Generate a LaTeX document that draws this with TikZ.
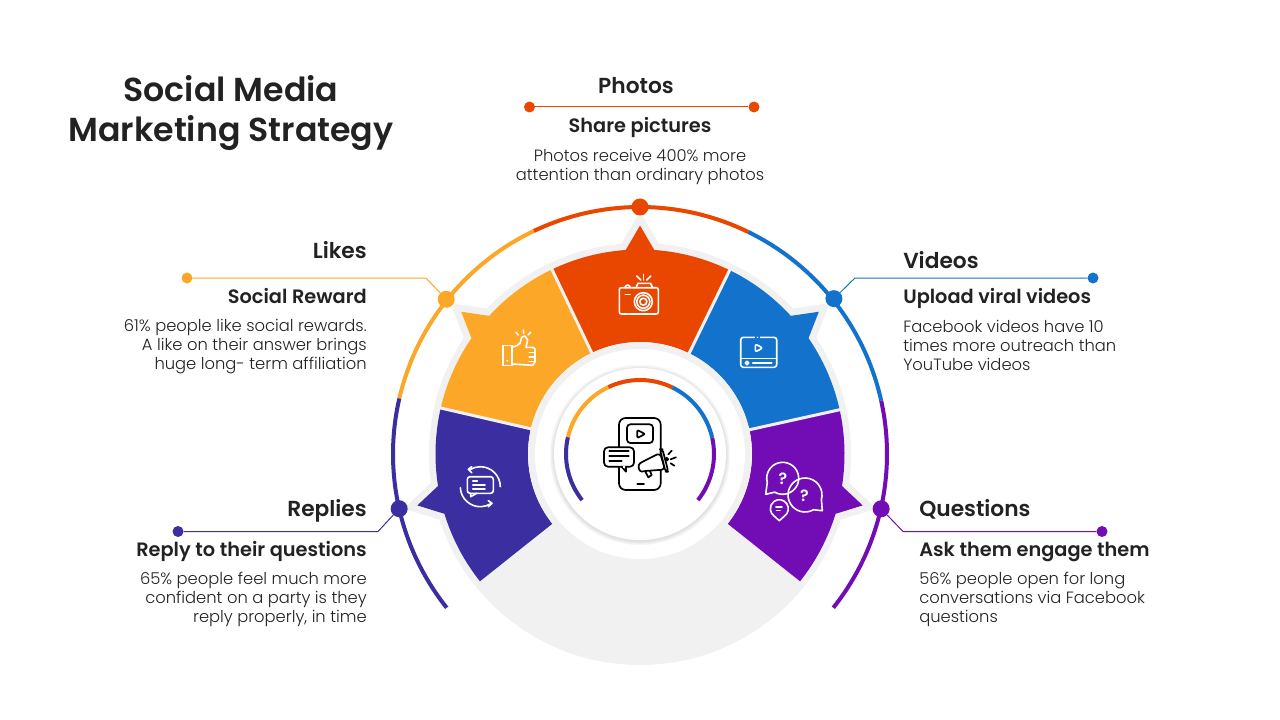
\documentclass[tikz,border=0pt]{standalone}
\usepackage{fontspec}
\setmainfont{Poppins}
\newfontfamily\semib{Poppins SemiBold}
\newfontfamily\lite{Poppins Light}
\definecolor{cRed}{HTML}{E94600}
\definecolor{cOrange}{HTML}{FCA727}
\definecolor{cBlue}{HTML}{1372CC}
\definecolor{cIndigo}{HTML}{3A2EA0}
\definecolor{cPurple}{HTML}{720DB5}
\definecolor{cText}{HTML}{222222}
\definecolor{cGrey}{HTML}{F1F1F1}
\tikzset{
  px/.style={line width=#1*0.75pt},
  titletext/.style={font=\semib\fontsize{24.9}{30}\selectfont,text=cText,align=center,inner sep=0},
  headtext/.style={font=\semib\fontsize{16.3}{20}\selectfont,text=cText,inner sep=0},
  subtext/.style={font=\semib\fontsize{14.5}{19}\selectfont,text=cText,inner sep=0},
  bodytext/.style={font=\lite\fontsize{12.25}{14.25}\selectfont,text=cText,inner sep=0},
  ringdot/.style={circle,fill=#1,draw=none,minimum size=17*0.75pt,inner sep=0},
  enddot/.style={circle,fill=#1,draw=none,minimum size=11*0.75pt,inner sep=0},
  link/.style={draw=#1,px=1},
  wicon/.style={draw=white,px=1.6,line cap=round,line join=round},
  kicon/.style={draw=black,px=1.7,line cap=round,line join=round},
}
% start, end, tip angle, colour
\newcommand{\wedgeshape}[4]{%
  \pgfmathsetmacro{\ba}{#3-4}\pgfmathsetmacro{\bb}{#3+4}%
  \fill[#4] (#1:112) -- (#1:204.5) arc[start angle=#1,end angle=\ba,radius=204.5]
    -- (#3:228.5) -- (\bb:204.5) arc[start angle=\bb,end angle=#2,radius=204.5]
    -- (#2:112) arc[start angle=#2,end angle=#1,radius=112] -- cycle;}
\newcommand{\tipback}[1]{%
  \pgfmathsetmacro{\ba}{#1-4}\pgfmathsetmacro{\bb}{#1+4}%
  \draw[cGrey,px=14,miter limit=10,line join=miter] (\ba:204.5) -- (#1:228.5) -- (\bb:204.5);}
\begin{document}
\begin{tikzpicture}[x=0.75pt,y=-0.75pt]
\useasboundingbox (0,0) rectangle (1280,720);
\fill[white] (0,0) rectangle (1280,720);

% wheel
\begin{scope}[shift={(640,454)},yscale=-1]
  \fill[cGrey] (0,0) circle[radius=211];
  \tipback{-13}\tipback{38.5}\tipback{90}\tipback{141.5}\tipback{193}
  \wedgeshape{-38.5}{12.5}{-13}{cPurple}
  \wedgeshape{12.5}{64}{38.5}{cBlue}
  \wedgeshape{64}{115.5}{90}{cRed}
  \wedgeshape{115.5}{167}{141.5}{cOrange}
  \wedgeshape{167}{218.5}{193}{cIndigo}
  \foreach \a in {12.5,64,115.5,167} \draw[cGrey,px=3] (\a:110) -- (\a:206);
  \fill[cGrey] (0,0) circle[radius=112];
  \fill[white] (0,0) circle[radius=105];
  % soft shadow of the inner disc
  \foreach \r/\c in {90/F6F6F6,89/F0F0F0,88/E9E9E9,87/E2E2E2}{
    \definecolor{tmpc}{HTML}{\c}\fill[tmpc] (0,-1) circle[radius=\r];}
  \fill[white] (0,0) circle[radius=86];
  % outer ring
  \foreach \s/\e/\c in {-38.5/12.5/cPurple,12.5/64/cBlue,64/115.5/cRed,115.5/167/cOrange,167/218.5/cIndigo}{
    \draw[\c,px=4] (\s:247) arc[start angle=\s,end angle=\e,radius=247];
    \draw[\c,px=4] (\s:74) arc[start angle=\s,end angle=\e,radius=74];}
  \node[ringdot=cRed] (dotPhotos) at (90:247) {};
  \node[ringdot=cOrange] (dotLikes) at (141.4:248) {};
  \node[ringdot=cBlue] (dotVideos) at (38.7:248.5) {};
  \node[ringdot=cIndigo] (dotReplies) at (192.8:247) {};
  \node[ringdot=cPurple] (dotQuestions) at (-12.8:247.3) {};
\end{scope}

% connectors
\node[enddot=cRed] (photosL) at (529.5,107) {};
\node[enddot=cRed] (photosR) at (754,107) {};
\draw[link=cRed] (photosL) -- (photosR);
\node[enddot=cOrange] (likesEnd) at (187,278) {};
\coordinate (likesBend) at (426,278);
\draw[link=cOrange] (likesEnd) -- (likesBend) -- (dotLikes);
\node[enddot=cBlue] (videosEnd) at (1093,278) {};
\coordinate (videosBend) at (855,278);
\draw[link=cBlue] (videosEnd) -- (videosBend) -- (dotVideos);
\node[enddot=cIndigo] (repliesEnd) at (178,531.5) {};
\coordinate (repliesBend) at (378,531.5);
\draw[link=cIndigo] (repliesEnd) -- (repliesBend) -- (dotReplies);
\node[enddot=cPurple] (questionsEnd) at (1102,531.5) {};
\coordinate (questionsBend) at (903,531.5);
\draw[link=cPurple] (questionsEnd) -- (questionsBend) -- (dotQuestions);

% texts
\node[titletext] (title) at (231,113) {Social Media\\[0pt]Marketing Strategy};
\node[headtext] (photosH) at (636,85.5) {Photos};
\node[subtext] (photosS) at (640,127) {Share pictures};
\node[bodytext,align=center] (photosB) at (640,166.5) {Photos receive 400\% more\\attention than ordinary photos};
\node[headtext,anchor=east] (likesH) at (367,250.5) {Likes};
\node[subtext,anchor=east] (likesS) at (367,296) {Social Reward};
\node[bodytext,align=right,anchor=east] (likesB) at (367,347) {61\% people like social rewards.\\A like on their answer brings\\huge long- term affiliation};
\node[headtext,anchor=west] (videosH) at (903,260.5) {Videos};
\node[subtext,anchor=west] (videosS) at (903,298.5) {Upload viral videos};
\node[bodytext,align=left,anchor=west] (videosB) at (903,345) {Facebook videos have 10\\times more outreach than\\YouTube videos};
\node[headtext,anchor=east] (repliesH) at (367,510.5) {Replies};
\node[subtext,anchor=east] (repliesS) at (367,551.5) {Reply to their questions};
\node[bodytext,align=right,anchor=east] (repliesB) at (367,599.5) {65\% people feel much more\\confident on a party is they\\reply properly, in time};
\node[headtext,anchor=west] (questionsH) at (919,509.5) {Questions};
\node[subtext,anchor=west] (questionsS) at (919,551.5) {Ask them engage them};
\node[bodytext,align=left,anchor=west] (questionsB) at (919,599.5) {56\% people open for long\\conversations via Facebook\\questions};

% camera icon
\draw[wicon,rounded corners=1.5] (619.3,287.7) rectangle (658.3,314);
\draw[wicon] (636,287.7) -- (638,283.3) -- (650.5,283.3) -- (652.7,287.7);
\draw[wicon] (625,287.7) arc[start angle=180,end angle=360,radius=2.6];
\draw[wicon] (643.3,301.7) circle[radius=9];
\draw[wicon] (643.3,301.7) circle[radius=6.5];
\draw[wicon] (643.3,301.7) circle[radius=3.5];
\draw[wicon] (625.3,294.3) -- (630,294.3);
\draw[wicon] (636.7,276) -- (640.7,280);
\draw[wicon] (643.3,274.3) -- (643.3,280);
\draw[wicon] (650.7,276) -- (646.7,280);

% thumb icon
\draw[wicon] (502.7,345.5) rectangle (511.7,365.3);
\fill[white] (507.3,360.7) circle[radius=1];
\draw[wicon] (511.7,347.3) -- (517,345.5) -- (520,343.3) -- (521.7,337.3) -- (525,336) -- (527.7,340) -- (526,347.3)
  -- (533.5,347.5) -- (535,349) -- (535,362) -- (532.7,365.3) -- (511.7,364);
\draw[wicon] (529.3,352.5) -- (535,352.5);
\draw[wicon] (529.3,357) -- (535,357);
\draw[wicon] (529.3,361.5) -- (535,361.5);
\draw[wicon] (516,332.3) -- (518.3,335);
\draw[wicon] (523.3,330) -- (523.7,333.3);
\draw[wicon] (530.7,332.3) -- (528.3,334.7);

% video icon
\draw[wicon,rounded corners=2] (740.7,337.3) rectangle (776.7,367.3);
\draw[wicon] (740.7,358.3) -- (776.7,358.3);
\draw[cBlue,px=3] (755,337.3) -- (760,337.3);
\fill[white] (757.5,337.3) circle[radius=0.8];
\draw[wicon,rounded corners=1.5] (755.3,344) -- (762.7,348) -- (755.3,352) -- cycle;
\draw[wicon] (747,363) circle[radius=1.7];
\draw[wicon] (752.7,363) -- (771.7,363);

% replies icon
\begin{scope}[shift={(480.3,486.7)},yscale=-1]
  \draw[wicon] (0:20) arc[start angle=0,end angle=122,radius=20];
  \draw[wicon] (183:20) arc[start angle=183,end angle=303,radius=20];
\end{scope}
\draw[wicon] (471.7,466.7) -- (468.3,469.3) -- (471.7,472.7);
\draw[wicon] (488.3,500.7) -- (492,503.3) -- (488.3,506.7);
\draw[wicon,rounded corners=2] (467.3,476.7) rectangle (493.3,493.3);
\draw[wicon] (470.7,493.3) -- (470.7,496.7) -- (476.7,493.3);
\draw[wicon] (472.7,480.7) -- (477.3,480.7);
\draw[wicon] (472.7,485) -- (485,485);
\draw[wicon] (472.7,489) -- (485,489);

% questions icon
\begin{scope}[shift={(782.7,478.3)},yscale=-1]
  \draw[wicon] (195:16) arc[start angle=195,end angle=-120,radius=16] -- (-17,-16) -- cycle;
\end{scope}
\begin{scope}[shift={(805,495)},yscale=-1]
  \draw[wicon] (-15:17) arc[start angle=-15,end angle=300,radius=17] -- (17.3,-15.7) -- cycle;
\end{scope}
\begin{scope}[shift={(779.3,508.7)},yscale=-1]
  \draw[wicon] (-55:9) arc[start angle=-55,end angle=235,radius=9] -- (0,-12) -- cycle;
\end{scope}
\node[text=white,font=\semib\fontsize{12}{12}\selectfont,inner sep=0] (q1) at (783,478.5) {?};
\node[text=white,font=\semib\fontsize{12}{12}\selectfont,inner sep=0] (q2) at (804.5,495.5) {?};
\draw[wicon] (776,506.7) -- (782,506.7);
\draw[wicon] (776.7,510.3) -- (780,510.3);

% centre icon
\draw[kicon,rounded corners=5] (619,418) rectangle (660.7,490);
\draw[kicon,rounded corners=2.5] (627,424.3) rectangle (653,443);
\draw[kicon,rounded corners=0.8] (637.3,430) -- (645,434) -- (637.3,438) -- cycle;
\draw[kicon] (637.3,483.7) -- (644,483.7);
\draw[kicon,fill=white,rounded corners=3] (604,447.3) rectangle (634,466.7);
\draw[kicon,fill=white] (621.7,466.7) -- (626,471.7) -- (626,466.7);
\draw[white,px=2] (622.7,466.7) -- (625.2,466.7);
\draw[kicon] (609.3,451.3) -- (628.7,451.3);
\draw[kicon] (609.3,456) -- (628.7,456);
\draw[kicon] (609.3,461) -- (621.7,461);
% megaphone
\draw[kicon,fill=white] (645,471) -- (648.3,477.3) -- (651.7,475) -- (649.3,469.5);
\draw[kicon,fill=white,rounded corners=2.5] (660,453) -- (643,461.5) .. controls (637,465) and (639,472) .. (645,471) -- (665,469.5) -- cycle;
\draw[kicon,fill=white,rounded corners=2] (660,449.3) -- (662.5,449.3) -- (668.3,471.7) -- (665.5,471.7) -- cycle;
\draw[kicon] (666.7,459.3) circle[radius=1.5];
\draw[kicon] (668.3,454.3) -- (671.7,450.7);
\draw[kicon] (670.7,459.3) -- (676,457.3);
\draw[kicon] (670.7,463.3) -- (674.3,465.7);
\end{tikzpicture}
\end{document}
